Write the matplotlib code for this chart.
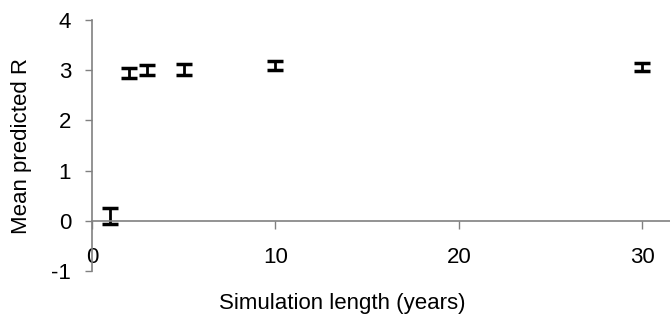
import matplotlib
matplotlib.use("Agg")
import matplotlib.pyplot as plt

plt.rcParams['font.family'] = ['Liberation Sans', 'DejaVu Sans']
plt.rcParams['axes.unicode_minus'] = False

# simulation length (years) and mean predicted R with error half-widths
sim_years = [1, 2, 3, 5, 10, 30]
mean_r = [0.09, 2.95, 3.01, 3.02, 3.10, 3.07]
err_r = [0.16, 0.10, 0.10, 0.11, 0.09, 0.08]

x_ticks = [0, 10, 20, 30]
y_ticks = [-1, 0, 1, 2, 3, 4]

fig = plt.figure(figsize=(6.7, 3.31), dpi=100)
ax = fig.add_axes([92 / 670, 1 - 271 / 331, 578 / 670, 251 / 331])

ax.errorbar(sim_years, mean_r, yerr=err_r, fmt='none', ecolor='black',
            elinewidth=2, capsize=5.5, capthick=2.5)

ax.set_xlim(0, 31.5)
ax.set_ylim(-1, 4)
ax.set_xticks(x_ticks)
ax.set_yticks(y_ticks)

for s in ['top', 'right']:
    ax.spines[s].set_visible(False)
ax.spines['bottom'].set_position(('data', 0))
for s in ['left', 'bottom']:
    ax.spines[s].set_color('#808080')
    ax.spines[s].set_linewidth(1.2)

ax.tick_params(axis='y', direction='out', length=5, width=1, color='#808080',
               pad=10, labelsize=16)
ax.tick_params(axis='x', direction='out', length=6, width=1, color='#808080',
               pad=13, labelsize=16)

ax.set_ylabel('Mean predicted R', fontsize=16, labelpad=14)
fig.text(342 / 670, 1 - 303 / 331, 'Simulation length (years)', fontsize=16,
         ha='center', va='center')

fig.savefig('out.png', dpi=100)
